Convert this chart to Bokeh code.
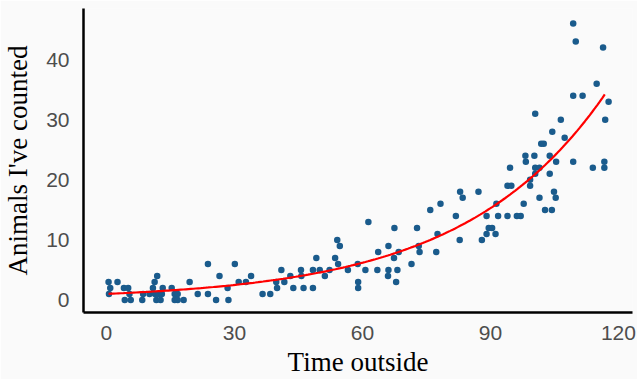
import numpy as np
from bokeh.plotting import figure
from bokeh.models import FixedTicker
from bokeh.embed import file_html
from bokeh.resources import INLINE

# Observed data (time outside, animals counted)
time_outside = [
    0.5, 2.6, 0.9, 0.6, 4.1, 5.1, 4.3, 5.7, 5.4, 8.4, 8.6, 10.1, 10.9, 11.3, 11.9, 11.4,
    11.7, 12.7, 12.2, 13.2, 13.0, 15.3, 16.0, 16.7, 16.0, 16.7, 18.1, 19.5, 21.4, 23.8,
    23.8, 25.7, 26.5,
    28.4, 28.6, 30.1, 31.0, 32.7, 33.9, 36.6, 38.4, 40.0, 39.8, 41.7, 41.0, 43.1, 43.8,
    45.6, 45.7, 46.2, 48.4, 48.4, 49.2, 50.0, 51.2, 52.3, 53.6, 54.1, 54.7, 54.3,
    56.6, 58.9, 59.0, 59.0, 60.7, 61.4, 63.5, 63.7, 66.1, 66.1, 66.0, 67.4, 67.5, 67.9,
    68.2, 68.5, 71.5, 72.8, 73.2, 73.4, 75.9, 77.3, 77.6, 78.3, 81.9, 82.8, 82.9, 83.5,
    87.2, 88.0, 89.1, 89.1, 89.6, 90.4, 91.2, 91.4, 91.8, 94.0, 94.0, 94.9, 94.6, 96.2,
    97.1, 97.8, 98.2, 98.3, 99.3, 99.3, 100.3, 100.5, 100.5, 100.5, 101.5, 101.5, 101.9,
    102.5, 102.8, 103.9, 103.9, 104.4, 104.5, 104.9, 105.3, 105.4, 106.5, 107.4, 109.4,
    109.4, 111.6, 114.0, 116.7, 116.7, 116.9, 117.7,
    109.4, 110.0, 116.4, 114.9,
]
animals = [
    3, 3, 2, 1, 2, 2, 0, 0, 1, 0, 1, 1, 2, 3, 4, 1,
    0, 0, 1, 2, 1, 2, 1, 1, 0, 0, 0, 3, 1, 6,
    1, 0, 4,
    2, 0, 6, 3, 3, 4, 1, 1, 2, 3, 3, 5, 4, 2,
    5, 4, 2, 5, 2, 7, 5, 4, 5, 7, 10, 9, 6,
    5, 6, 3, 2, 5, 13, 5, 8, 9, 5, 4, 7, 12, 3,
    5, 8, 6, 12, 9, 8, 15, 8, 11, 16, 14, 10, 18, 17,
    18, 10, 14, 11, 12, 12, 11, 16, 14, 14, 19, 19, 22, 14,
    14, 16, 24, 23, 19, 20, 24, 22, 21, 31, 22, 17, 26,
    26, 15, 24, 21, 15, 28, 18, 17, 23, 30, 27, 23,
    34, 34, 22, 23, 22, 30, 33,
    46, 43, 42, 36,
]

x_ticks = [0, 30, 60, 90, 120]
y_ticks = [0, 10, 20, 30, 40]

xd = np.array(time_outside, dtype=float)
yd = np.array(animals, dtype=float)

# Exponential (Poisson log-link) fit computed from the data
X = np.column_stack([np.ones_like(xd), xd])
beta = np.array([np.log(yd.mean()), 0.0])
for _ in range(50):
    eta = X @ beta
    mu = np.exp(eta)
    z = eta + (yd - mu) / mu
    W = mu
    beta = np.linalg.solve(X.T @ (W[:, None] * X), X.T @ (W * z))
xs = np.linspace(xd.min(), 116.8, 200)
ys = np.exp(beta[0] + beta[1] * xs)

BG = "#FAFAFA"
p = figure(
    width=637, height=379,
    x_range=(-5.37, 123.3), y_range=(-2.07, 48.5),
    output_backend="svg", toolbar_location=None,
    min_border_left=82, min_border_right=5, min_border_top=8, min_border_bottom=66,
    background_fill_color=BG, border_fill_color=BG,
)
p.outline_line_color = None
p.grid.visible = False

p.scatter(xd, yd, size=6.5, color="#1A5B8C", line_color=None)
p.line(xs, ys, color="#FF0000", line_width=2.2)

for ax in (p.xaxis[0], p.yaxis[0]):
    ax.axis_line_color = "black"
    ax.axis_line_width = 2.5
    ax.major_tick_line_color = None
    ax.minor_tick_line_color = None
    ax.major_tick_in = 0
    ax.major_tick_out = 0
    ax.major_label_text_font = "Liberation Sans"
    ax.major_label_text_font_size = "21px"
    ax.major_label_text_color = "#4D4D4D"
    ax.axis_label_text_font = "Liberation Serif"
    ax.axis_label_text_font_size = "27px"
    ax.axis_label_text_font_style = "normal"
    ax.axis_label_text_color = "black"

p.xaxis[0].ticker = FixedTicker(ticks=x_ticks)
p.yaxis[0].ticker = FixedTicker(ticks=y_ticks)
p.xaxis[0].axis_label = "Time outside"
p.yaxis[0].axis_label = "Animals I've counted"
p.xaxis[0].major_label_standoff = 13
p.xaxis[0].axis_label_standoff = 4
p.yaxis[0].major_label_standoff = 14
p.yaxis[0].axis_label_standoff = 10

open("out.html", "w").write(file_html(p, INLINE))
